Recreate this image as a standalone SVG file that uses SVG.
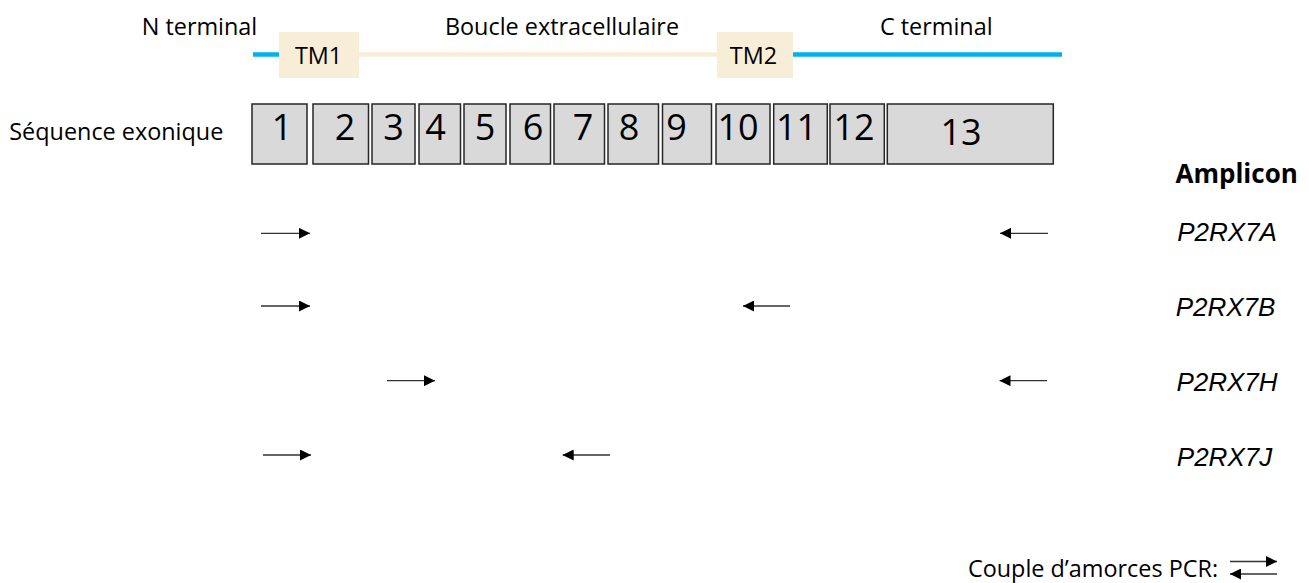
<svg xmlns="http://www.w3.org/2000/svg" width="1309" height="583" viewBox="0 0 1309 583">
  <style>
    text { font-family: "Open Sans", "Liberation Sans", sans-serif; fill: #000; }
    .lbl { font-size: 23.4px; }
    .num { font-size: 36px; text-anchor: middle; }
    .tm { font-size: 23.4px; text-anchor: middle; }
    .amp { font-family: "Liberation Sans", Arial, sans-serif; font-size: 26px; font-style: italic; text-anchor: middle; }
    .exon { fill: #D9D9D9; stroke: #262626; stroke-width: 1.5; }
    .tmbox { fill: #F8EED8; stroke: none; }
    .blue { stroke: #00B0F0; stroke-width: 4.5; fill: none; }
    .beige { stroke: #F8EED8; stroke-width: 4.5; fill: none; }
    .arr { stroke: #333333; stroke-width: 1.3; fill: none; marker-end: url(#ah); }
  </style>
  <defs>
    <marker id="ah" markerUnits="userSpaceOnUse" markerWidth="11" markerHeight="11" refX="10" refY="5" orient="auto" viewBox="0 0 10 10">
      <path d="M0,0 L10,5 L0,10 z" fill="#000"/>
    </marker>
  </defs>
  <rect width="1309" height="583" fill="#FFFFFF"/>

  <g id="protein">
    <line class="blue" x1="253" y1="54.5" x2="280" y2="54.5"/>
    <line class="beige" x1="358" y1="54.5" x2="718" y2="54.5"/>
    <line class="blue" x1="792" y1="54.5" x2="1062" y2="54.5"/>
  </g>
  <g id="tm1">
    <rect class="tmbox" x="279" y="32" width="80" height="46"/>
    <text class="tm" x="318.6" y="63.5">TM1</text>
  </g>
  <g id="tm2">
    <rect class="tmbox" x="717" y="32" width="76" height="46"/>
    <text class="tm" x="753.5" y="63.5">TM2</text>
  </g>
  <g id="labels-top">
    <text class="lbl" x="199.5" y="35" text-anchor="middle">N terminal</text>
    <text class="lbl" x="562" y="35" text-anchor="middle">Boucle extracellulaire</text>
    <text class="lbl" x="936.3" y="35" text-anchor="middle">C terminal</text>
    <text class="lbl" x="116.3" y="140" text-anchor="middle">Séquence exonique</text>
  </g>

  <g id="exon1"><rect class="exon" x="252" y="104" width="55" height="60"/><text class="num" x="282" y="140">1</text></g>
  <g id="exon2"><rect class="exon" x="313" y="104" width="55.5" height="60"/><text class="num" x="345" y="140">2</text></g>
  <g id="exon3"><rect class="exon" x="372" y="104" width="43" height="60"/><text class="num" x="393.5" y="140">3</text></g>
  <g id="exon4"><rect class="exon" x="419" y="104" width="41.5" height="60"/><text class="num" x="435.5" y="140">4</text></g>
  <g id="exon5"><rect class="exon" x="464" y="104" width="42" height="60"/><text class="num" x="485" y="140">5</text></g>
  <g id="exon6"><rect class="exon" x="510" y="104" width="40.5" height="60"/><text class="num" x="533" y="140">6</text></g>
  <g id="exon7"><rect class="exon" x="554" y="104" width="50.5" height="60"/><text class="num" x="583" y="140">7</text></g>
  <g id="exon8"><rect class="exon" x="608" y="104" width="50.5" height="60"/><text class="num" x="629" y="140">8</text></g>
  <g id="exon9"><rect class="exon" x="662.5" y="104" width="49" height="60"/><text class="num" x="676.5" y="140">9</text></g>
  <g id="exon10"><rect class="exon" x="716" y="104" width="54" height="60"/><text class="num" x="738" y="140">10</text></g>
  <g id="exon11"><rect class="exon" x="773.7" y="104" width="53.6" height="60"/><text class="num" x="796.5" y="140">11</text></g>
  <g id="exon12"><rect class="exon" x="830" y="104" width="54.3" height="60"/><text class="num" x="854" y="140">12</text></g>
  <g id="exon13"><rect class="exon" x="887.3" y="104" width="166" height="60"/><text class="num" x="961" y="144.5">13</text></g>

  <g id="amplicon-labels">
    <text x="1236.7" y="183" font-size="26" font-weight="bold" text-anchor="middle">Amplicon</text>
    <text class="amp" x="1227" y="241">P2RX7A</text>
    <text class="amp" x="1225.5" y="316">P2RX7B</text>
    <text class="amp" x="1227" y="391">P2RX7H</text>
    <text class="amp" x="1224.5" y="466">P2RX7J</text>
  </g>

  <g id="legend">
    <text class="lbl" x="1093" y="577" text-anchor="middle">Couple d’amorces PCR:</text>
  </g>

  <g id="connectors">
    <line class="arr" x1="261" y1="233.3" x2="310" y2="233.3"/>
    <line class="arr" x1="1048" y1="233.3" x2="1000" y2="233.3"/>
    <line class="arr" x1="261" y1="306" x2="310" y2="306"/>
    <line class="arr" x1="790" y1="306" x2="743" y2="306"/>
    <line class="arr" x1="387" y1="380.7" x2="435" y2="380.7"/>
    <line class="arr" x1="1047" y1="380.7" x2="999.5" y2="380.7"/>
    <line class="arr" x1="263" y1="455" x2="311" y2="455"/>
    <line class="arr" x1="610" y1="455" x2="562.7" y2="455"/>
    <line class="arr" x1="1230" y1="561.5" x2="1277" y2="561.5"/>
    <line class="arr" x1="1277" y1="574" x2="1230" y2="574"/>
  </g>
</svg>
